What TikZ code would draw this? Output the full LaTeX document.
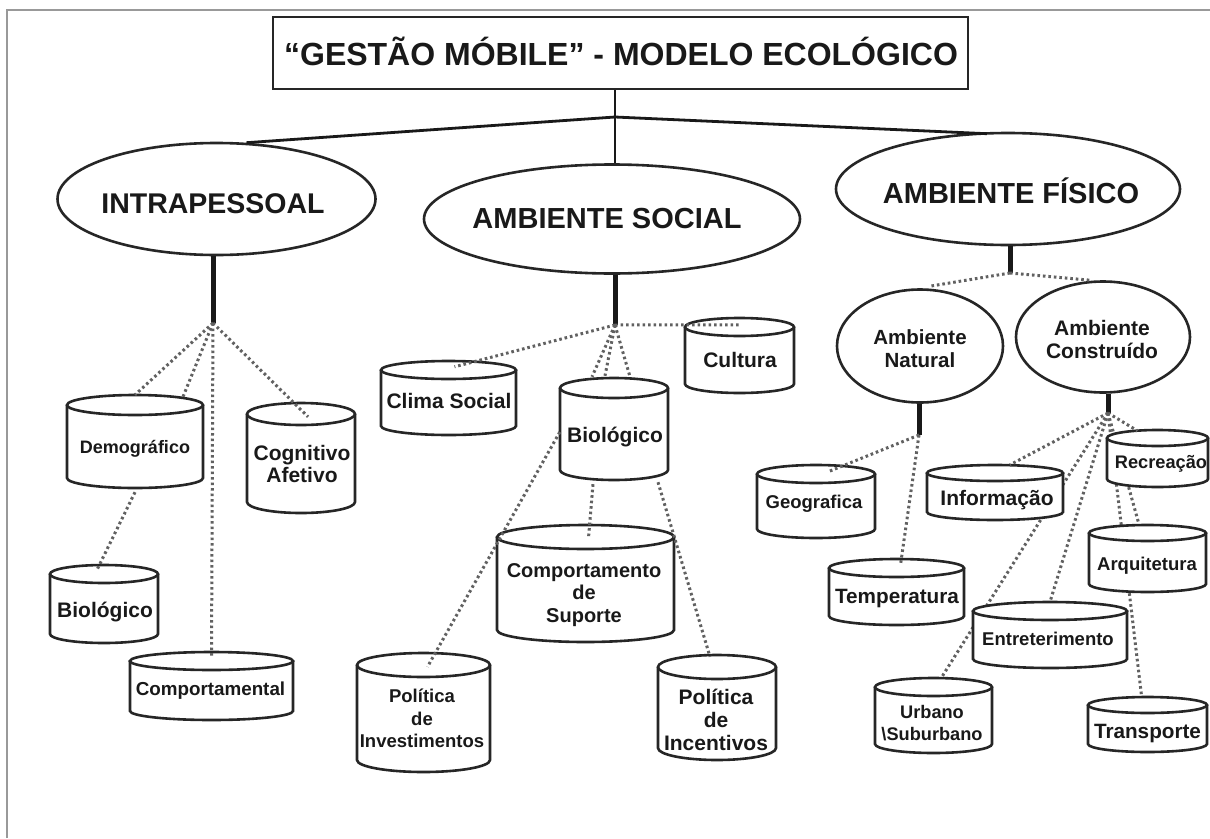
\documentclass[tikz,border=0pt]{standalone}
\usepackage{fontspec}
\setmainfont{Liberation Sans}
\usetikzlibrary{shapes.geometric,calc}
\newcommand\fs[1]{\fontsize{#1}{#1}\selectfont\bfseries}
\newcommand\mkcyl[6]{%
  \fill[white] (#2,{#3+#6}) -- (#2,{#5-#6}) arc[start angle=180,end angle=0,x radius={(#4-#2)/2},y radius=#6] -- (#4,{#3+#6}) -- cycle;
  \draw[outl] (#2,{#3+#6}) -- (#2,{#5-#6}) arc[start angle=180,end angle=0,x radius={(#4-#2)/2},y radius=#6] -- (#4,{#3+#6});
  \draw[outl,fill=white] ({(#2+#4)/2},{#3+#6}) ellipse[x radius={(#4-#2)/2},y radius=#6];
  \path ({(#2+#4)/2},{(#3+#5)/2}) node[inner sep=0pt,minimum width={(#4-#2)*1pt},minimum height={(#5-#3)*1pt}] (#1) {};
}
\begin{document}
\begin{tikzpicture}[x=1pt,y=-1pt,
  outl/.style={line width=2.6pt,draw=black!85},
  ell/.style={ellipse,outl,fill=white,inner sep=0pt},
  tree/.style={line width=2.8pt,black!90},
  stem/.style={line width=5pt,black!90},
  dotl/.style={line width=3pt,black!62,dash pattern=on 2.6pt off 2.9pt},
  lbl/.style={inner sep=0pt,anchor=base,text=black!90}]
\useasboundingbox (0,0) rectangle (1210,838);
\fill[white] (0,0) rectangle (1210,838);
\draw[black!40,line width=1.5pt] (7,838) -- (7,10) -- (1210,10);

% title and main ellipses
\node[draw=black!85,line width=2.6pt,minimum width=695pt,minimum height=72pt,inner sep=0pt] (title) at (620.5,53) {};
\node[lbl] (titlet) at (621,65) {\fs{32}“GESTÃO MÓBILE” - MODELO ECOLÓGICO};
\node[ell,minimum width=318pt,minimum height=112pt] (intra) at (216.5,199) {};
\node[ell,minimum width=376pt,minimum height=109pt] (social) at (612,219) {};
\node[ell,minimum width=344pt,minimum height=112pt] (fis) at (1008,189) {};
\node[lbl] (intrat) at (213,213) {\fs{28.5}INTRAPESSOAL};
\node[lbl] (socialt) at (607,228) {\fs{29}AMBIENTE SOCIAL};
\node[lbl] (fist) at (1011,203) {\fs{29}AMBIENTE FÍSICO};

\coordinate (tb) at (615,117);
\draw[tree] (title.south -| tb) -- (tb) -- (social.north -| tb);
\draw[tree] (tb) -- ($(intra.north)+(30,1)$);
\draw[tree] (tb) -- ($(fis.north)+(-21,2)$);

% sub ellipses
\node[ell,minimum width=166pt,minimum height=113pt] (nat) at (920,346) {};
\node[ell,minimum width=174pt,minimum height=111pt] (cons) at (1103,337) {};
\node[lbl] (natt1) at (920,344) {\fs{20.5}Ambiente};
\node[lbl] (natt2) at (920,367) {\fs{20.5}Natural};
\node[lbl] (const1) at (1102,335) {\fs{21}Ambiente};
\node[lbl] (const2) at (1102,358) {\fs{21}Construído};

% hubs and stems
\coordinate (ih) at (213,323);
\coordinate (sh) at (615,325);
\coordinate (fh) at (1010,273);
\coordinate (nh) at (919,435);
\coordinate (ch) at (1108,413);
\draw[stem] (ih) -- (ih |- intra.south);
\draw[stem] (sh) -- (sh |- social.south);
\draw[stem] (fh) -- (fh |- fis.south);
\draw[stem] (nh) -- (nh |- nat.south);
\draw[stem] (ch) -- (ch |- cons.south);

% dotted lines that pass behind cylinders
\coordinate (urbE) at (938,683);
\coordinate (arqE) at (1140,528);
\coordinate (trE) at (1142,700);
\draw[dotl] (ch) -- (urbE);
\draw[dotl] (ch) -- (arqE);
\draw[dotl] (ch) -- (trE);

% cylinders
\mkcyl{demo}{67}{395}{203}{488}{10}
\mkcyl{cogn}{247}{403}{355}{513}{11}
\mkcyl{bioL}{50}{565}{158}{643}{9}
\mkcyl{comp}{130}{652}{293}{720}{9}
\mkcyl{clima}{381}{361}{516}{435}{9}
\mkcyl{bioM}{560}{378}{668}{480}{10}
\mkcyl{cult}{685}{318}{794}{393}{9}
\mkcyl{supo}{497}{525}{674}{642}{12}
\mkcyl{inv}{357}{653}{490}{772}{12}
\mkcyl{inc}{658}{655}{776}{760}{12}
\mkcyl{geo}{757}{465}{875}{538}{9}
\mkcyl{temp}{829}{559}{964}{625}{9}
\mkcyl{info}{927}{465}{1063}{520}{8}
\mkcyl{recr}{1107}{430}{1208}{487}{8}
\mkcyl{arq}{1089}{525}{1206}{592}{8}
\mkcyl{entr}{973}{602}{1127}{668}{9}
\mkcyl{urb}{875}{678}{992}{753}{9}
\mkcyl{trans}{1088}{697}{1207}{752}{8}

% cylinder labels
\node[lbl] (demot) at (135,453) {\fs{18}Demográfico};
\node[lbl] (cognt1) at (302,460) {\fs{21}Cognitivo};
\node[lbl] (cognt2) at (302,482) {\fs{21}Afetivo};
\node[lbl] (bioLt) at (105,617) {\fs{21}Biológico};
\node[lbl] (compt) at (210.5,695) {\fs{18.8}Comportamental};
\node[lbl] (climat) at (449,408) {\fs{21}Clima Social};
\node[lbl] (bioMt) at (615,442) {\fs{21}Biológico};
\node[lbl] (cultt) at (740,367) {\fs{21}Cultura};
\node[lbl] (supot1) at (584,577) {\fs{20}Comportamento};
\node[lbl] (supot2) at (584,599) {\fs{20}de};
\node[lbl] (supot3) at (584,622) {\fs{20}Suporte};
\node[lbl] (invt1) at (422,702) {\fs{18.5}Política};
\node[lbl] (invt2) at (422,725) {\fs{18.5}de};
\node[lbl] (invt3) at (422,747) {\fs{18.5}Investimentos};
\node[lbl] (inct1) at (716,704) {\fs{21}Política};
\node[lbl] (inct2) at (716,727) {\fs{21}de};
\node[lbl] (inct3) at (716,750) {\fs{21}Incentivos};
\node[lbl] (geot) at (814,508) {\fs{18.5}Geografica};
\node[lbl] (tempt) at (897,603) {\fs{20.7}Temperatura};
\node[lbl] (infot) at (997,505) {\fs{21}Informação};
\node[lbl] (recrt) at (1161,468) {\fs{18.2}Recreação};
\node[lbl] (arqt) at (1147,570) {\fs{18.5}Arquitetura};
\node[lbl] (entrt) at (1048,645) {\fs{18.5}Entreterimento};
\node[lbl] (urbt1) at (932,718) {\fs{18.2}Urbano};
\node[lbl] (urbt2) at (932,740) {\fs{18.2}\textbackslash Suburbano};
\node[lbl] (transt) at (1147.5,738) {\fs{20.7}Transporte};

% dotted connectors on top
\draw[dotl] (ih) -- (demo.north);
\draw[dotl] (ih) -- ($(demo.north)+(48,2)$);
\draw[dotl] (ih) -- ($(cogn.north)+(7,14)$);
\draw[dotl] (ih) -- ($(comp.north)+(0,5)$);
\draw[dotl] ($(demo.south)+(0,4)$) -- ($(bioL.north)+(-7,5)$);
\draw[dotl] (sh) -- ($(clima.north)+(6,6)$);
\draw[dotl] (sh) -- ($(cult.north)+(0,7)$);
\draw[dotl] (sh) -- ($(bioM.north)+(-22,-1)$);
\draw[dotl] (sh) -- ($(bioM.north)+(-9,-2)$);
\draw[dotl] (sh) -- ($(bioM.north)+(16,-1)$);
\draw[dotl] ($(bioM.west)+(0,3)$) -- ($(inv.north)+(4,14)$);
\draw[dotl] ($(bioM.south)+(-21,4)$) -- ($(supo.north)+(3,13)$);
\draw[dotl] ($(bioM.south)+(44,2)$) -- ($(inc.north)+(-7,2)$);
\draw[dotl] (fh) -- ($(nat.north)+(10,-2)$);
\draw[dotl] (fh) -- ($(cons.north)+(-13,0)$);
\draw[dotl] (nh) -- ($(geo.north)+(12,7)$);
\draw[dotl] (nh) -- ($(temp.north)+(4,6)$);
\draw[dotl] (ch) -- ($(info.north)+(15,0)$);
\draw[dotl] (ch) -- (entr.north);
\draw[dotl] (ch) -- ($(recr.north)+(-20,1)$);
\end{tikzpicture}
\end{document}
